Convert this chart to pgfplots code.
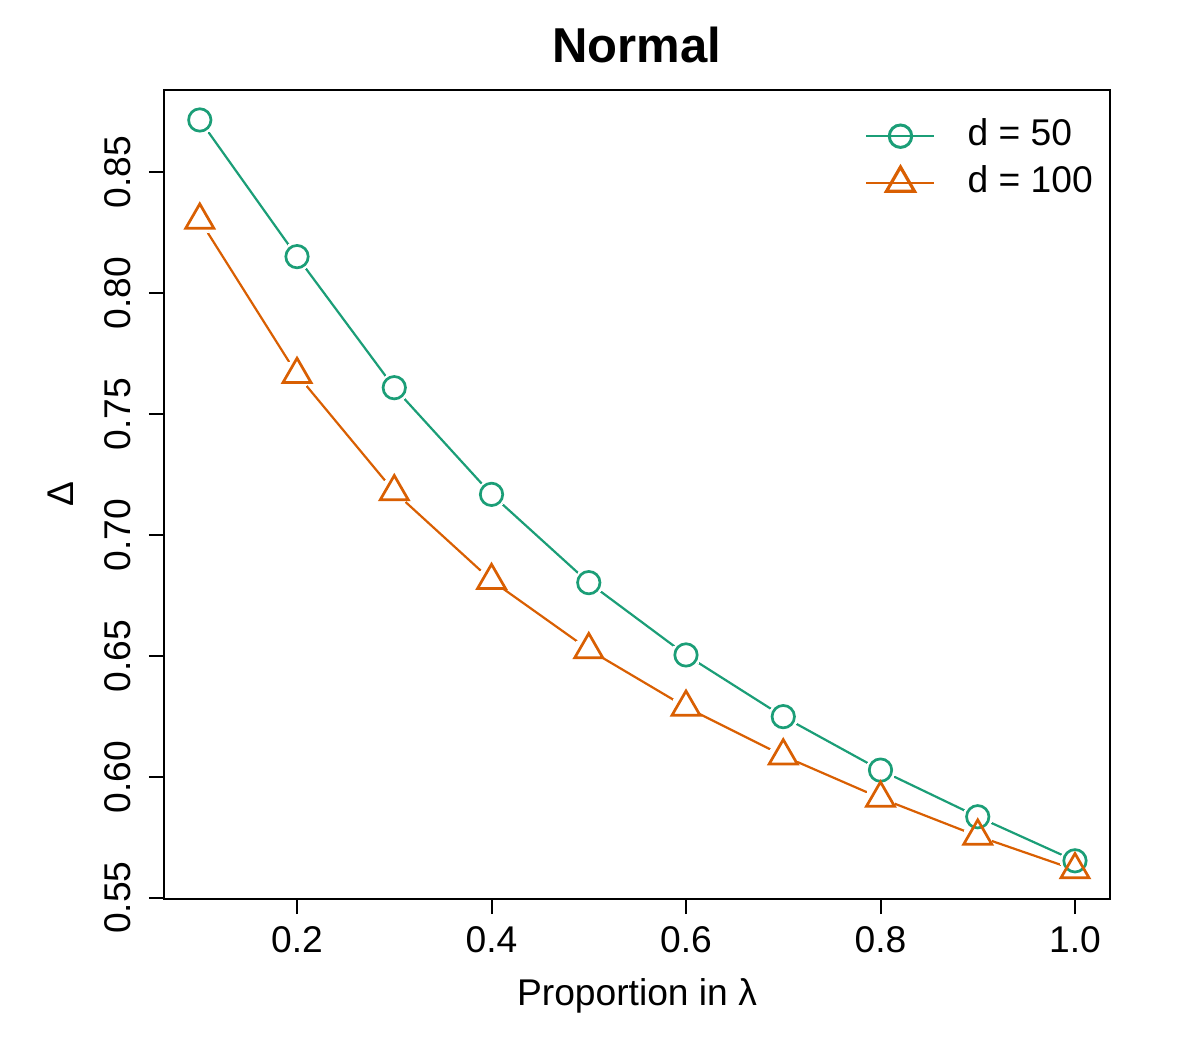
\documentclass[border=0pt]{standalone}
\usepackage{pgfplots}
\pgfplotsset{compat=1.18}
\usepackage{pgfplotstable}
\usepackage{fontspec}
\setmainfont{Liberation Sans}

\definecolor{dgreen}{HTML}{1B9E77}
\definecolor{dorange}{HTML}{D95F02}

% Delta as a function of the proportion in lambda
\pgfplotstableread{
prop delta
0.1 0.8716
0.2 0.8151
0.3 0.7609
0.4 0.7168
0.5 0.6803
0.6 0.6504
0.7 0.6249
0.8 0.6028
0.9 0.5835
1.0 0.5653
}\dfifty

\pgfplotstableread{
prop delta
0.1 0.8302
0.2 0.7664
0.3 0.7179
0.4 0.6812
0.5 0.6526
0.6 0.6288
0.7 0.6087
0.8 0.5912
0.9 0.5755
1.0 0.5616
}\dhundred

\begin{document}
\begin{tikzpicture}
\begin{axis}[
  at={(82pt,75.5pt)}, anchor=south west,
  scale only axis, width=473pt, height=404.5pt,
  xmin=0.0632, xmax=1.036, ymin=0.5495, ymax=0.884,
  axis line style={black, line width=1pt},
  every tick/.style={black, line width=1pt},
  tick align=outside, major tick length=7.5pt,
  xtick pos=bottom, ytick pos=left,
  xtick={0.2,0.4,0.6,0.8,1.0},
  xticklabels={0.2,0.4,0.6,0.8,1.0},
  ytick={0.55,0.60,0.65,0.70,0.75,0.80,0.85},
  yticklabels={0.55,0.60,0.65,0.70,0.75,0.80,0.85},
  tick label style={font=\fontsize{18.6}{22}\selectfont},
  xticklabel style={anchor=north, inner sep=0pt, yshift=-6pt},
  yticklabel style={rotate=90, anchor=south, inner sep=0pt, yshift=9pt},
  title={Normal},
  title style={font=\fontsize{24.5}{30}\selectfont\bfseries,
    at={(axis description cs:0.5,1)}, anchor=center, yshift=16.5pt},
  xlabel={Proportion in λ},
  xlabel style={font=\fontsize{18.6}{22}\selectfont,
    at={(axis description cs:0.5,0)}, anchor=north, inner sep=0pt, yshift=-39.5pt},
  ylabel={Δ},
  ylabel style={font=\fontsize{18.6}{22}\selectfont,
    at={(axis description cs:0,0.5)}, anchor=center, yshift=51.5pt},
  legend style={draw=none, fill=none, font=\fontsize{18.6}{22}\selectfont,
    at={(axis description cs:0.741,0.965)}, anchor=north west,
    inner sep=0pt, row sep=6pt,
    nodes={inner sep=0pt, anchor=west, text height=13.5pt, text depth=4pt},
    /tikz/every odd column/.append style={column sep=16pt}},
  legend cell align=left,
  legend image code/.code={
    \draw[mark repeat=2, mark phase=2] plot coordinates {(0pt,0pt) (17pt,0pt) (34pt,0pt)};},
  clip=false,
]
% connecting lines
\addplot[dgreen, line width=1.1pt, no marks, forget plot] table[x=prop, y=delta] {\dfifty};
\addplot[dorange, line width=1.1pt, no marks, forget plot] table[x=prop, y=delta] {\dhundred};
% gaps in the lines around each point
\addplot[white, only marks, mark=*, mark size=7.25pt, mark options={draw=white, fill=white, line width=0pt}, forget plot] table[x=prop, y=delta] {\dfifty};
\addplot[white, only marks, mark=*, mark size=7.25pt, mark options={draw=white, fill=white, line width=0pt}, forget plot] table[x=prop, y=delta] {\dhundred};
% point symbols
\addplot[only marks, dgreen, mark=o, mark size=5.6pt, mark options={line width=1.35pt}, forget plot] table[x=prop, y=delta] {\dfifty};
\addplot[only marks, dorange, mark=triangle, mark size=8.1pt, mark options={line width=1.35pt}, forget plot] table[x=prop, y=delta] {\dhundred};
% legend
\addlegendimage{dgreen, line width=1.1pt, mark=o, mark size=5.6pt, mark options={line width=1.5pt}}
\addlegendentry{d = 50}
\addlegendimage{dorange, line width=1.1pt, mark=triangle, mark size=8.1pt, mark options={line width=1.6pt}}
\addlegendentry{d = 100}
\end{axis}
\path[use as bounding box] (0,0) rectangle (600pt,525pt);
\end{tikzpicture}
\end{document}
